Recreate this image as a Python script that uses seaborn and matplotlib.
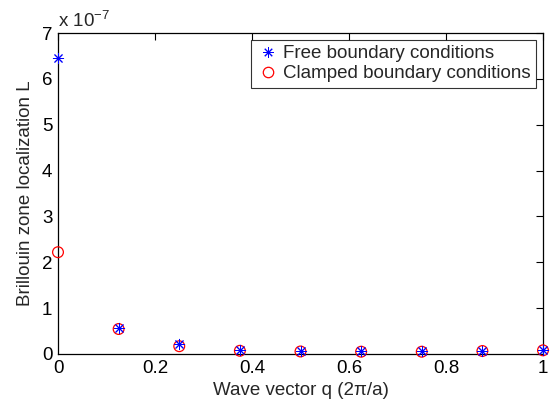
import numpy as np
import pandas as pd
import matplotlib
matplotlib.use("Agg")
import matplotlib.pyplot as plt
import seaborn as sns
from matplotlib.ticker import FuncFormatter, MultipleLocator
from matplotlib.lines import Line2D

q = [0.0, 0.125, 0.25, 0.375, 0.5, 0.625, 0.75, 0.875, 1.0]
free_L = [6.45e-7, 0.57e-7, 0.21e-7, 0.08e-7, 0.065e-7, 0.06e-7, 0.06e-7, 0.075e-7, 0.09e-7]
clamped_L = [2.22e-7, 0.545e-7, 0.17e-7, 0.07e-7, 0.055e-7, 0.05e-7, 0.05e-7, 0.065e-7, 0.08e-7]
labels = ["Free boundary conditions", "Clamped boundary conditions"]

sns.set_style("white")
plt.rcParams["font.family"] = ["Liberation Sans", "DejaVu Sans"]
plt.rcParams["mathtext.fontset"] = "custom"
plt.rcParams["mathtext.rm"] = "Liberation Sans"
plt.rcParams["mathtext.it"] = "Liberation Sans"
FS = 13.5

fig = plt.figure(figsize=(5.51, 4.05), dpi=100)
ax = fig.add_axes([58 / 551, 1 - 354 / 405, (543 - 58) / 551, (354 - 33) / 405])

df_c = pd.DataFrame({"q": q, "L": clamped_L})
df_f = pd.DataFrame({"q": q, "L": free_L})
sns.scatterplot(data=df_c, x="q", y="L", marker="o", s=60, facecolor="none",
                edgecolor="red", linewidth=0.9, ax=ax, clip_on=False, zorder=3)
sns.scatterplot(data=df_f, x="q", y="L", marker=(8, 2, 0), s=55, color="blue",
                edgecolor="blue", linewidth=0.7, ax=ax, clip_on=False, zorder=4)

ax.set_xlim(0, 1)
ax.set_ylim(0, 7e-7)
ax.xaxis.set_major_locator(MultipleLocator(0.2))
ax.yaxis.set_major_locator(MultipleLocator(1e-7))
ax.xaxis.set_major_formatter(FuncFormatter(lambda v, p: "0" if abs(v) < 1e-9 else ("1" if abs(v - 1) < 1e-9 else f"{v:.1f}")))
ax.yaxis.set_major_formatter(FuncFormatter(lambda v, p: f"{v * 1e7:.0f}"))
ax.tick_params(direction="in", length=5, width=0.8, top=True, right=True,
               labelsize=FS, pad=4, colors="black")
for s in ax.spines.values():
    s.set_color("black")
    s.set_linewidth(0.9)

ax.set_xlabel("Wave vector q (2π/a)", fontsize=FS, labelpad=4)
ax.set_ylabel("Brillouin zone localization L", fontsize=FS, labelpad=6)
ax.text(0.0, 1.005, r"x 10$^{-7}$", transform=ax.transAxes, fontsize=FS,
        ha="left", va="bottom")

h = [Line2D([], [], linestyle="none", marker=(8, 2, 0), color="blue", markersize=7.5, markeredgewidth=0.7),
     Line2D([], [], linestyle="none", marker="o", markerfacecolor="none", markeredgecolor="red", markersize=7.5, markeredgewidth=0.9)]
leg = ax.legend(h, labels, loc="upper right", fontsize=FS, frameon=True, fancybox=False,
                edgecolor="black", borderpad=0.3, handletextpad=0.2, handlelength=1.2,
                labelspacing=0.15, borderaxespad=0.3, bbox_to_anchor=(0.997, 0.997))
leg.get_frame().set_linewidth(0.8)

fig.savefig("out.png", dpi=100, facecolor="white")
